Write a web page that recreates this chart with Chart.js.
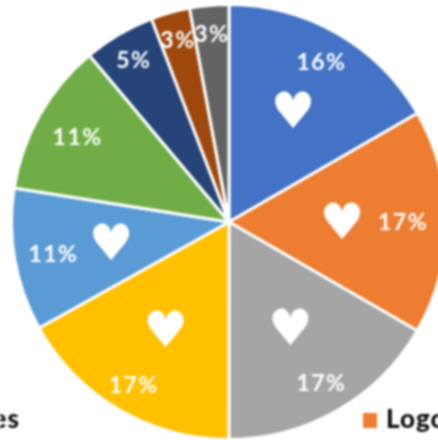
<!DOCTYPE html>
<html>
<head>
<meta charset="utf-8">
<style>
html,body{margin:0;padding:0;width:438px;height:440px;overflow:hidden;background:#fff}
#wrap{position:absolute;left:0;top:0;width:460px;height:444px;filter:blur(0.8px)}
</style>
<script src="https://cdn.jsdelivr.net/npm/chart.js@4/dist/chart.umd.min.js"></script>
</head>
<body>
<div id="wrap"><canvas id="c" width="460" height="444"></canvas></div>
<script>
const sliceNames = ['Slice 1','Logos','Slice 3','Slice 4','Slice 5','Slice 6','Slice 7','Slice 8','Slice 9'];
const sliceValues = [16.67,16.67,16.67,16.9,10.6,11.4,5.3,2.9,2.9];
const percentLabels = ['16%','17%','17%','17%','11%','11%','5%','3%','3%'];
const hasHeart = [true,true,true,true,true,false,false,false,false];
const sliceColors = ['#4472C4','#ED7D31','#A5A5A5','#FFC000','#5B9BD5','#70AD47','#264478','#9E480E','#636363'];
const labelRadius = [.85,.80,.85,.865,.82,.80,.865,.87,.87];
const heartRadius = [.59,.52,.565,.575,.55,0,0,0,0];

const overlay = {
  id:'overlay',
  afterDatasetsDraw(chart){
    const ctx = chart.ctx;
    const arcs = chart.getDatasetMeta(0).data;
    ctx.save();
    ctx.textAlign='center';
    ctx.textBaseline='middle';
    arcs.forEach((a,i)=>{
      const mid=(a.startAngle+a.endAngle)/2;
      ctx.fillStyle='#fff';
      ctx.letterSpacing='1.5px';
      ctx.font='bold 23px Lato';
      ctx.fillText(percentLabels[i],a.x+Math.cos(mid)*a.outerRadius*labelRadius[i],1+a.y+Math.sin(mid)*a.outerRadius*labelRadius[i]);
      ctx.letterSpacing='0px';
      if(hasHeart[i]){
        ctx.font='50px "DejaVu Sans"';
        ctx.fillText('\u2665',a.x+Math.cos(mid)*a.outerRadius*heartRadius[i],4+a.y+Math.sin(mid)*a.outerRadius*heartRadius[i]);
      }
    });
    ctx.textBaseline='alphabetic';
    ctx.fillStyle='#111';
    ctx.letterSpacing='1px';
    ctx.font='900 26px Lato';
    ctx.textAlign='right';
    ctx.fillText('es',20,428);
    ctx.textAlign='left';
    ctx.fillText('Logos',386,428);
    ctx.letterSpacing='0px';
    ctx.fillStyle=sliceColors[1];
    ctx.fillRect(363,413,14,15);
    ctx.restore();
  }
};

new Chart(document.getElementById('c'),{
  type:'pie',
  data:{labels:sliceNames,datasets:[{data:sliceValues,backgroundColor:sliceColors,borderColor:'#fff',borderWidth:3}]},
  options:{
    responsive:false,animation:false,
    layout:{padding:{top:3,bottom:3,left:0,right:2}},
    plugins:{legend:{display:false},tooltip:{enabled:false}}
  },
  plugins:[overlay]
});
</script>
</body>
</html>
